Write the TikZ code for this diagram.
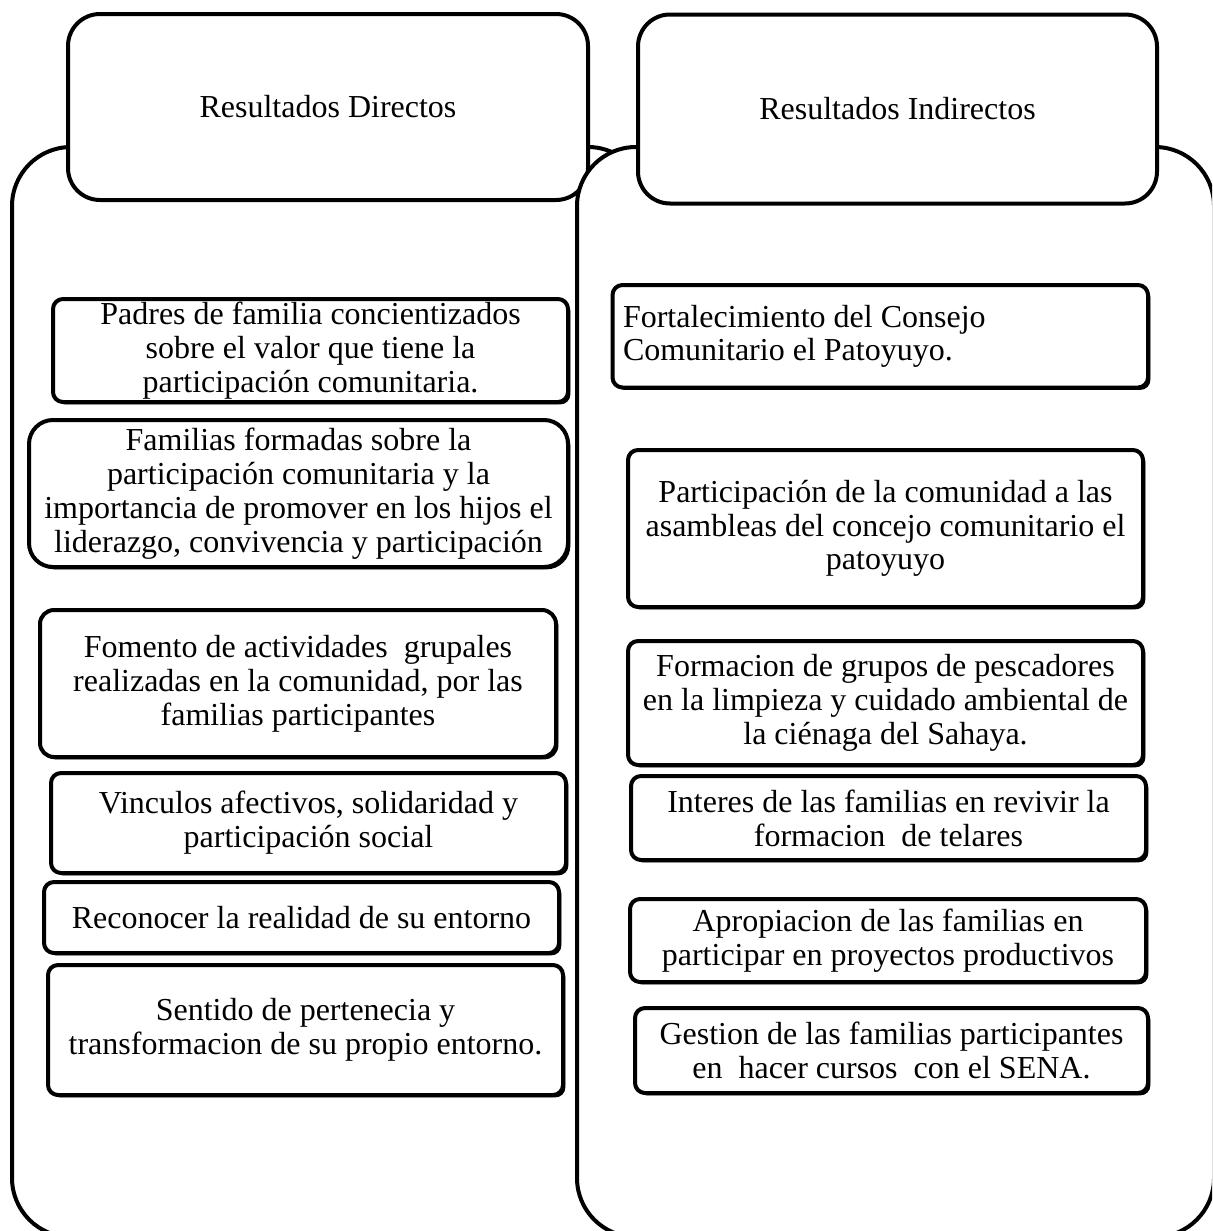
\documentclass[tikz,border=0pt]{standalone}
\usepackage{fontspec}
\setmainfont{Liberation Serif}
\usetikzlibrary{shadows}
\begin{document}
\begin{tikzpicture}[x=0.5pt,y=-0.5pt,line join=round,
  cont/.style={draw=black,line width=2pt,fill=white,rounded corners=29.5pt},
  headbox/.style={draw=black,line width=2pt,fill=white,rounded corners=16pt,
    inner sep=0pt,font=\fontsize{16pt}{16.7pt}\selectfont},
  ibox/.style={draw=black,line width=2pt,fill=white,rounded corners=5pt,
    align=center,inner sep=0pt,font=\fontsize{16pt}{16.9pt}\selectfont,
    drop shadow={shadow xshift=1.2pt,shadow yshift=-1.2pt,fill=black,opacity=1}},
]
\useasboundingbox (0,0) rectangle (1212,1231);
\clip (0,0) rectangle (1212,1231);
% containers and headers
\draw[cont] (12,147) rectangle (647,1237);
\node[headbox,minimum width=260pt,minimum height=93pt] (hd) at (328,107) {Resultados Directos};
\draw[cont] (577,147) rectangle (1214,1237);
\node[headbox,minimum width=259.5pt,minimum height=94.5pt] (hi) at (897.5,109) {Resultados Indirectos};
% left column
\node[ibox,minimum width=257.5pt,minimum height=51.5pt] (d1) at (310.5,350.5)
  {Padres de familia concientizados\\sobre el valor que tiene la\\participación comunitaria.};
\node[ibox,rounded corners=12pt,minimum width=269.5pt,minimum height=73.5pt] (d2) at (298.5,493.5)
  {Familias formadas sobre la\\participación comunitaria y la\\importancia de promover en los hijos el\\liderazgo, convivencia y participación};
\node[ibox,rounded corners=7pt,minimum width=258pt,minimum height=73.5pt] (d3) at (298,683.5)
  {Fomento de actividades\ \ grupales\\realizadas en la comunidad, por las\\familias participantes};
\node[ibox,minimum width=257.5pt,minimum height=50pt] (d4) at (308.5,823)
  {Vinculos afectivos, solidaridad y\\participación social};
\node[ibox,minimum width=257.5pt,minimum height=35.5pt] (d5) at (301.5,917.5)
  {Reconocer la realidad de su entorno};
\node[ibox,minimum width=257.5pt,minimum height=65pt] (d6) at (305.5,1030)
  {Sentido de pertenecia y\\transformacion de su propio entorno.};
% right column
\node[ibox,align=flush left,text width=257.25pt,inner xsep=5.25pt,minimum height=51.25pt] (i1) at (880.25,336.25)
  {Fortalecimiento del Consejo\\Comunitario el Patoyuyo.};
\node[ibox,minimum width=257.5pt,minimum height=78.5pt] (i2) at (885.5,528.5)
  {Participación de la comunidad a las\\asambleas del concejo comunitario el\\patoyuyo};
\node[ibox,minimum width=257.5pt,minimum height=62pt] (i3) at (885.5,703)
  {Formacion de grupos de pescadores\\en la limpieza y cuidado ambiental de\\la ciénaga del Sahaya.};
\node[ibox,minimum width=257.5pt,minimum height=42pt] (i4) at (888.5,818)
  {Interes de las familias en revivir la\\formacion\ \ de telares};
\node[ibox,minimum width=258pt,minimum height=41.5pt] (i5) at (888,940.5)
  {Apropiacion de las familias en\\participar en proyectos productivos};
\node[ibox,minimum width=256.5pt,minimum height=42.5pt] (i6) at (891.5,1050.5)
  {Gestion de las familias participantes\\en\ \ hacer cursos\ \ con el SENA.};
\end{tikzpicture}
\end{document}
